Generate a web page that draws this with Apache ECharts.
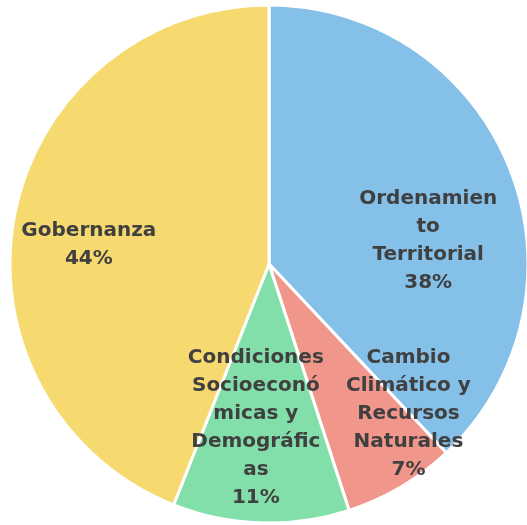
<!DOCTYPE html>
<html>
<head>
<meta charset="utf-8">
<script src="https://cdn.jsdelivr.net/npm/echarts@6/dist/echarts.min.js"></script>
<style>
    html, body { margin: 0; padding: 0; background: #fff; }
    #chart-main { width: 527px; height: 525px; }
</style>
</head>
<body>
<div id="chart-main"></div>
<script>
    var categories = ['Ordenamiento Territorial', 'Cambio Climático y Recursos Naturales', 'Condiciones Socioeconómicas y Demográficas', 'Gobernanza'];
    var values = [38, 7, 11, 44];
    // label text as wrapped in the picture
    var labelTexts = [
        'Ordenamien\nto\nTerritorial',
        'Cambio\nClimático y\nRecursos\nNaturales',
        'Condiciones\nSocioeconó\nmicas y\nDemográfic\nas',
        'Gobernanza'
    ];
    var colors = ['#85c0e9', '#f1968a', '#82dfa9', '#f6d96f'];
    // nudges from the default inside label spot
    var labelOffsets = [[36, 26], [72, 36], [-9, 31], [-50, 6]];

    var total = values.reduce(function (a, b) { return a + b; }, 0);
    var pieData = categories.map(function (name, i) {
        return {
            name: name,
            value: values[i],
            itemStyle: { color: colors[i] },
            label: { offset: labelOffsets[i] }
        };
    });

    var option = {
        animation: false,
        series: [
            {
                type: 'pie',
                center: [269, 264],
                radius: [0, 259],
                startAngle: 90,
                clockwise: true,
                data: pieData,
                itemStyle: {
                    borderColor: '#ffffff',
                    borderWidth: 3
                },
                label: {
                    show: true,
                    position: 'inside',
                    color: '#404040',
                    fontFamily: 'DejaVu Sans',
                    fontWeight: 'bold',
                    fontSize: 20,
                    lineHeight: 28,
                    align: 'center',
                    formatter: function (p) {
                        var pct = Math.round(p.value / total * 100);
                        return labelTexts[p.dataIndex] + '\n' + pct + '%';
                    }
                },
                labelLine: { show: false },
                emphasis: { disabled: true }
            }
        ]
    };

    var myChart = echarts.init(document.getElementById('chart-main'));
    myChart.setOption(option);
</script>
</body>
</html>
